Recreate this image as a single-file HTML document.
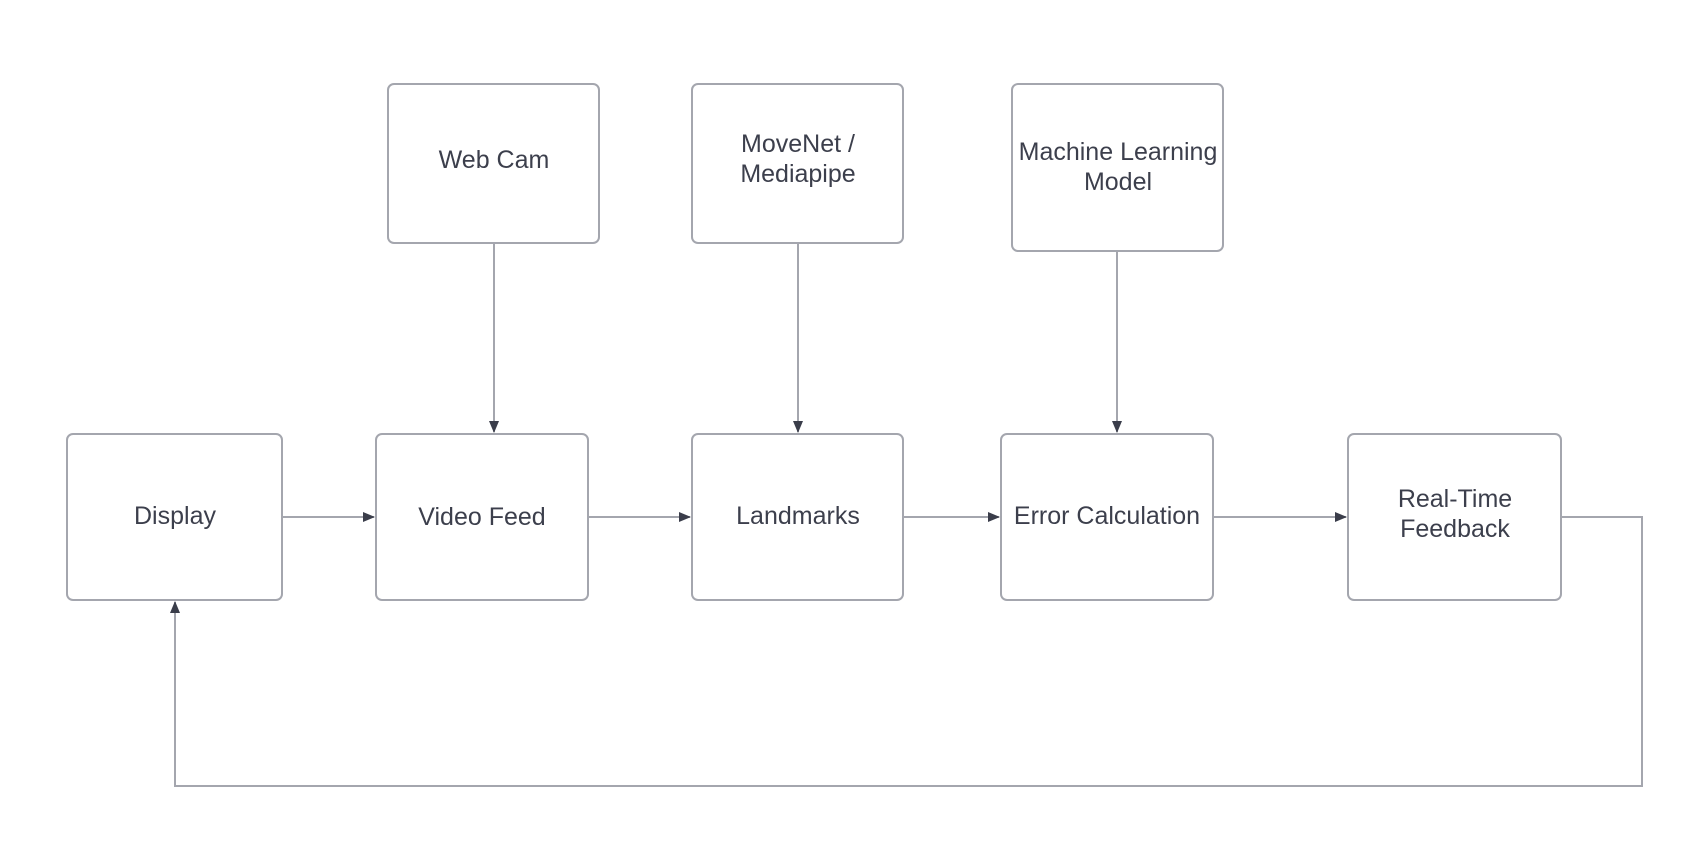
<!DOCTYPE html>
<html><head><meta charset="utf-8"><style>
body{margin:0;background:#fff;width:1700px;height:840px;overflow:hidden}
</style></head><body>
<svg width="1700" height="840" xmlns="http://www.w3.org/2000/svg" font-family="Liberation Sans, sans-serif" font-size="25" fill="#3c3f4c">
<defs><marker id="a" markerWidth="12" markerHeight="10" refX="11" refY="5" orient="auto" markerUnits="userSpaceOnUse"><path d="M0,0 L12,5 L0,10 Z" fill="#3a3d4a"/></marker></defs>
<g fill="#fff" stroke="#a4a6ae" stroke-width="2">
<rect x="388" y="84" width="211" height="159" rx="6"/>
<rect x="692" y="84" width="211" height="159" rx="6"/>
<rect x="1012" y="84" width="211" height="167" rx="6"/>
<rect x="67" y="434" width="215" height="166" rx="6"/>
<rect x="376" y="434" width="212" height="166" rx="6"/>
<rect x="692" y="434" width="211" height="166" rx="6"/>
<rect x="1001" y="434" width="212" height="166" rx="6"/>
<rect x="1348" y="434" width="213" height="166" rx="6"/>
</g>
<g stroke="#a4a6ae" stroke-width="2" fill="none">
<line x1="494" y1="243" x2="494" y2="432" marker-end="url(#a)"/>
<line x1="798" y1="243" x2="798" y2="432" marker-end="url(#a)"/>
<line x1="1117" y1="251" x2="1117" y2="432" marker-end="url(#a)"/>
<line x1="282" y1="517" x2="374" y2="517" marker-end="url(#a)"/>
<line x1="588" y1="517" x2="690" y2="517" marker-end="url(#a)"/>
<line x1="903" y1="517" x2="999" y2="517" marker-end="url(#a)"/>
<line x1="1213" y1="517" x2="1346" y2="517" marker-end="url(#a)"/>
<path d="M1561,517 H1642 V786 H175 V602" marker-end="url(#a)"/>
</g>
<g text-anchor="middle">
<text x="494" y="168">Web Cam</text>
<text x="798" y="152">MoveNet /</text>
<text x="798" y="182">Mediapipe</text>
<text x="1118" y="160">Machine Learning</text>
<text x="1118" y="190">Model</text>
<text x="175" y="524">Display</text>
<text x="482" y="525">Video Feed</text>
<text x="798" y="524">Landmarks</text>
<text x="1107" y="524">Error Calculation</text>
<text x="1455" y="507">Real-Time</text>
<text x="1455" y="537">Feedback</text>
</g>
</svg>
</body></html>
